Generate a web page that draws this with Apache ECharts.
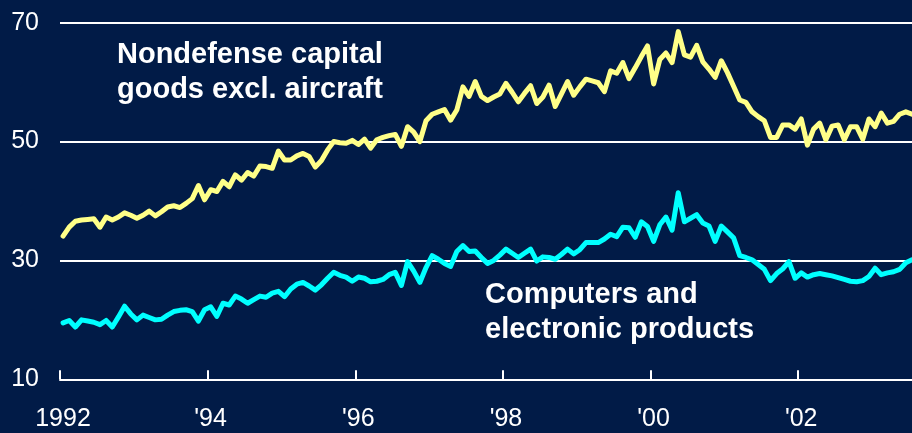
<!DOCTYPE html>
<html>
<head>
<meta charset="utf-8">
<title>New orders: capital goods and computers</title>
<script src="https://cdn.jsdelivr.net/npm/echarts@6/dist/echarts.min.js"></script>
<style>
  html, body { margin: 0; padding: 0; background: #011b47; }
  #chart { width: 912px; height: 433px; }
</style>
</head>
<body>
<div id="chart"></div>
<script>
// Monthly series, January 1992 through July 2003 (billions of dollars)
const startYear = 1992;

const capitalGoods = [
  34.1, 35.6, 36.6, 36.8, 36.9, 37.0, 35.6, 37.3, 36.8, 37.3, 38.0, 37.6,
  37.1, 37.6, 38.3, 37.5, 38.2, 39.0, 39.2, 38.9, 39.6, 40.4, 42.6, 40.2,
  41.9, 41.6, 43.3, 42.4, 44.4, 43.5, 44.8, 44.2, 45.9, 45.8, 45.5, 48.4,
  46.9, 46.9, 47.6, 48.0, 47.5, 45.7, 46.8, 48.6, 50.0, 49.8, 49.7, 50.2,
  49.5, 50.4, 48.9, 50.3, 50.7, 51.0, 51.2, 49.2, 52.5, 51.6, 50.0, 53.5,
  54.6, 55.0, 55.4, 53.6, 55.3, 59.2, 57.6, 60.1, 57.6, 56.9, 57.5, 58.0,
  59.8, 58.3, 56.7, 58.1, 59.4, 56.4, 57.5, 59.5, 55.9, 58.0, 60.1, 57.8,
  59.2, 60.5, 60.2, 59.9, 58.4, 61.9, 61.5, 63.3, 60.6, 62.4, 64.3, 66.1,
  59.7, 63.8, 64.9, 63.3, 68.5, 64.6, 64.2, 66.2, 63.4, 62.2, 60.8, 63.6,
  61.6, 59.3, 57.0, 56.6, 55.0, 54.2, 53.5, 50.7, 50.7, 52.8, 52.8, 52.1,
  53.8, 49.4, 52.1, 53.1, 50.3, 52.6, 52.8, 50.3, 52.5, 52.5, 50.4, 53.8,
  52.5, 54.8, 53.1, 53.4, 54.6, 55.0, 54.6
];

const computers = [
  19.5, 19.9, 18.8, 20.0, 19.8, 19.6, 19.2, 19.9, 18.8, 20.5, 22.3, 21.0,
  20.0, 20.8, 20.4, 20.0, 20.1, 20.8, 21.4, 21.6, 21.7, 21.4, 19.8, 21.7,
  22.2, 20.6, 22.8, 22.5, 24.0, 23.5, 22.8, 23.4, 24.0, 23.8, 24.5, 24.8,
  23.9, 25.2, 26.0, 26.3, 25.7, 25.0, 25.9, 27.0, 28.0, 27.5, 27.2, 26.5,
  27.2, 27.0, 26.4, 26.5, 26.8, 27.6, 28.0, 25.8, 29.8, 28.2, 26.3, 28.8,
  30.8, 30.2, 29.5, 29.0, 31.5, 32.5, 31.5, 31.6, 30.5, 29.5, 30.0, 30.9,
  31.9, 31.2, 30.5, 31.2, 31.9, 29.9, 30.6, 30.5, 30.2, 31.0, 31.9, 31.1,
  31.8, 33.0, 33.0, 33.0, 33.6, 34.4, 34.0, 35.6, 35.5, 33.9, 36.5, 35.7,
  33.2, 36.0, 37.3, 35.1, 41.4, 36.5, 37.1, 37.7, 36.3, 35.8, 33.2, 35.8,
  34.8, 33.8, 30.8, 30.5, 30.1, 29.3, 28.5, 26.6, 27.8, 28.6, 29.8, 27.0,
  27.9, 27.2, 27.6, 27.8, 27.6, 27.4, 27.1, 26.8, 26.5, 26.4, 26.6, 27.3,
  28.7, 27.6, 27.9, 28.1, 28.5, 29.6, 30.1
];

// Year tick labels, one every two years
const yearTicks = ['1992', "'94", "'96", "'98", "'00", "'02"];
const yTicks = [10, 30, 50, 70];

const seriesNames = ['Nondefense capital\ngoods excl. aircraft', 'Computers and\nelectronic products'];

// Each monthly value sits in the middle of its month on a month-count axis
const toPoints = arr => arr.map((v, i) => [i + 0.5, v]);

const FONT = '"Liberation Sans", Arial, Helvetica, sans-serif';
const chart = echarts.init(document.getElementById('chart'), null, { renderer: 'canvas' });

chart.setOption({
  backgroundColor: '#011b47',
  animation: false,
  grid: { left: 60, right: 0, top: 22.7, bottom: 53.7 },
  xAxis: {
    type: 'value',
    min: 0,
    max: 138.5,
    interval: 24,
    axisLine: { show: true, lineStyle: { color: '#ffffff', width: 2 } },
    axisTick: { show: true, inside: true, length: 9, lineStyle: { color: '#ffffff', width: 2 } },
    splitLine: { show: false },
    axisLabel: {
      color: '#ffffff',
      fontFamily: FONT,
      fontSize: 25,
      lineHeight: 25,
      margin: 27,
      padding: [0, 0, 0, 6],
      showMaxLabel: false,
      formatter: v => {
        const k = Math.round(v / 24);
        return (Math.abs(v - k * 24) < 1e-6 && yearTicks[k] !== undefined) ? yearTicks[k] : '';
      }
    }
  },
  yAxis: {
    type: 'value',
    min: yTicks[0],
    max: yTicks[yTicks.length - 1],
    interval: 20,
    axisLine: { show: false },
    axisTick: { show: false },
    splitLine: { show: true, lineStyle: { color: '#ffffff', width: 2 } },
    axisLabel: {
      color: '#ffffff',
      fontFamily: FONT,
      fontSize: 25,
      margin: 21
    }
  },
  series: [
    {
      name: seriesNames[0],
      type: 'line',
      data: toPoints(capitalGoods),
      showSymbol: false,
      symbol: 'none',
      lineStyle: { color: '#ffff88', width: 5, join: 'round', cap: 'round' },
      z: 3
    },
    {
      name: seriesNames[1],
      type: 'line',
      data: toPoints(computers),
      showSymbol: false,
      symbol: 'none',
      lineStyle: { color: '#00ffff', width: 5, join: 'round', cap: 'round' },
      z: 3
    }
  ],
  graphic: [
    {
      type: 'text',
      left: 117,
      top: 37,
      style: {
        text: seriesNames[0],
        fill: '#ffffff',
        font: 'bold 29px ' + FONT,
        lineHeight: 35.5
      }
    },
    {
      type: 'text',
      left: 485,
      top: 277,
      style: {
        text: seriesNames[1],
        fill: '#ffffff',
        font: 'bold 29px ' + FONT,
        lineHeight: 35.5
      }
    }
  ]
});
</script>
</body>
</html>
